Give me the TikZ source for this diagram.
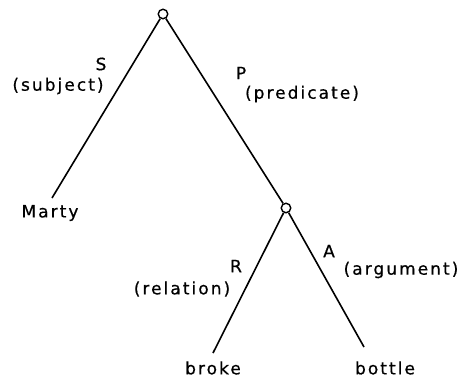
\documentclass[tikz,border=0pt]{standalone}
\usepackage{fontspec}
\setmainfont{DejaVu Sans}[LetterSpace=12,FakeBold=0.6]
\begin{document}
\begin{tikzpicture}[x=1pt,y=-1pt,
  branch/.style={line width=1.6pt},
  knot/.style={circle,draw,line width=1.4pt,minimum size=9.5pt,inner sep=0pt},
  lab/.style={inner sep=0pt,font=\fontsize{17}{20}\selectfont}]
\useasboundingbox (0,0) rectangle (462,377);
\node[knot] (root) at (163,14) {};
\node[knot] (pn) at (286,208) {};
\coordinate (mE) at (52,198);
\coordinate (brE) at (213,353);
\coordinate (boE) at (364,347);
\node[lab] (marty) at (50,213) {Marty};
\node[lab] (broke) at (213,368) {broke};
\node[lab] (bottle) at (385,368) {bottle};
\node[lab] (s) at (101,64) {S};
\node[lab] (subj) at (58,86) {(subject)};
\node[lab] (p) at (241,73) {P};
\node[lab] (pred) at (302,94) {(predicate)};
\node[lab] (r) at (236,266) {R};
\node[lab] (rel) at (182,289) {(relation)};
\node[lab] (a) at (329,251) {A};
\node[lab] (arg) at (401,270) {(argument)};
\draw[branch] (root) -- (mE);
\draw[branch] (root) -- (pn);
\draw[branch] (pn) -- (brE);
\draw[branch] (pn) -- (boE);
\end{tikzpicture}
\end{document}
